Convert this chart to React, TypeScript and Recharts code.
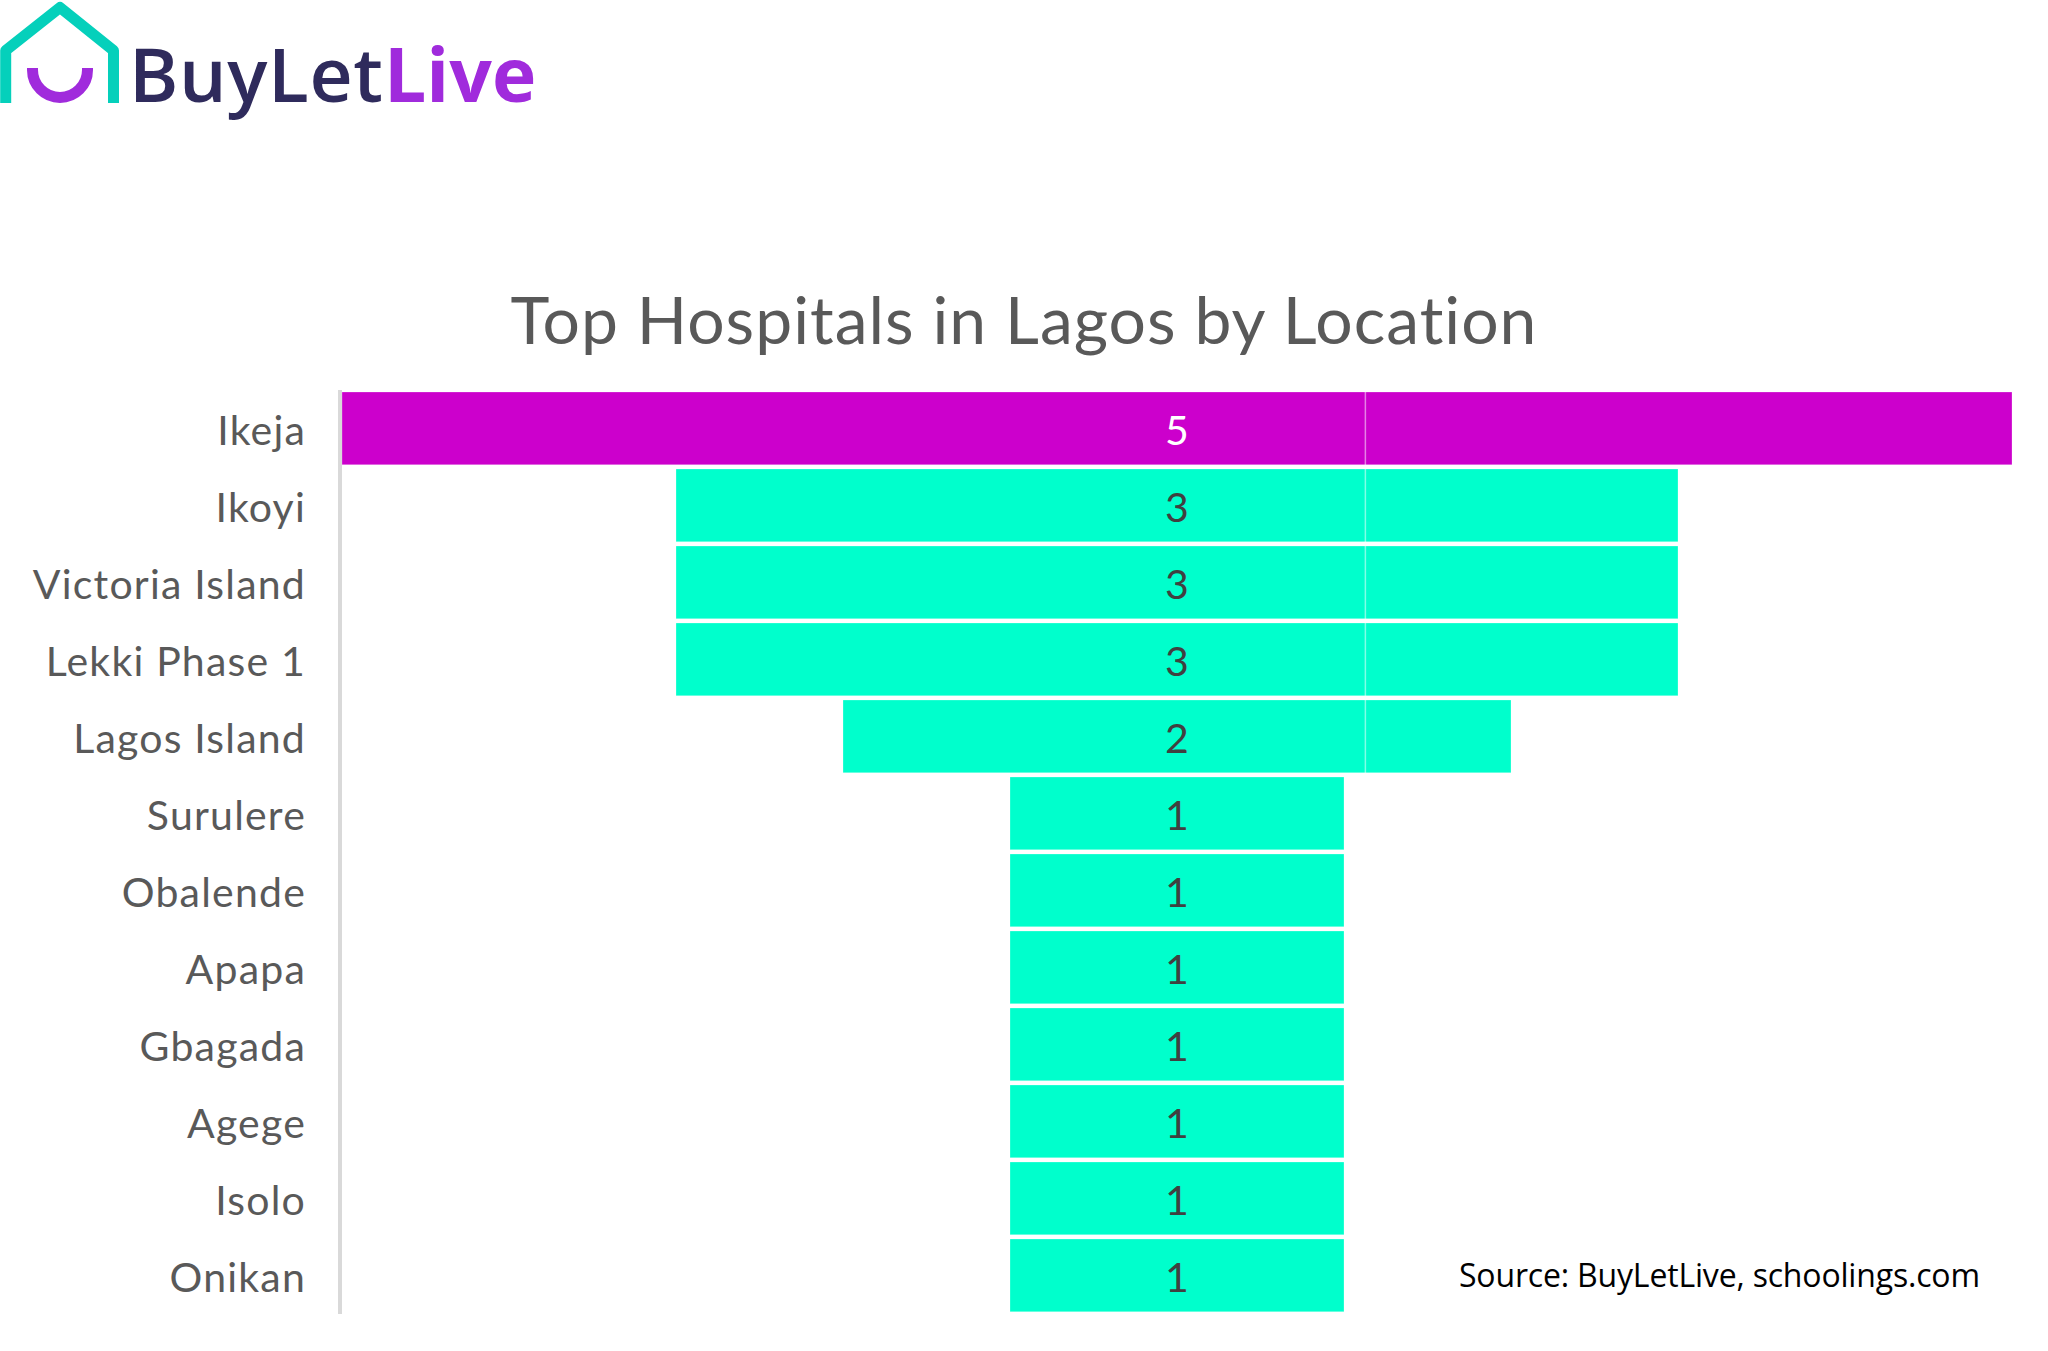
import React from 'react';
import { BarChart, Bar, XAxis, YAxis, Cell, LabelList, ReferenceLine } from 'recharts';

const locations = ['Ikeja', 'Ikoyi', 'Victoria Island', 'Lekki Phase 1', 'Lagos Island', 'Surulere', 'Obalende', 'Apapa', 'Gbagada', 'Agege', 'Isolo', 'Onikan'];
const hospitals = [5, 3, 3, 3, 2, 1, 1, 1, 1, 1, 1, 1];
// invisible spacer that centres each bar, funnel style
const spacers = [0, 1, 1, 1, 1.5, 2, 2, 2, 2, 2, 2, 2];

const data = locations.map((location, i) => ({ location, hospitals: hospitals[i], spacer: spacers[i] }));

const FONT = 'Lato, sans-serif';
const NO_LIGATURES = { fontVariantLigatures: 'none' } as const;

const renderValue = (props: any) => {
  const { x, y, width, height, value } = props;
  return (
    <text
      x={x + width / 2}
      y={y + height / 2}
      dy="0.4em"
      textAnchor="middle"
      fontFamily={FONT}
      fontSize={41}
      fill={value === 5 ? '#ffffff' : '#404040'}
    >
      {value}
    </text>
  );
};

const renderTick = (props: any) => {
  const { x, y, payload } = props;
  return (
    <text
      x={x}
      y={y}
      dy="0.4em"
      textAnchor="end"
      fontFamily={FONT}
      fontSize={41}
      letterSpacing={1.2}
      fill="#595959"
      style={NO_LIGATURES}
    >
      {payload.value}
    </text>
  );
};

const Overlay = () => (
  <svg width={2048} height={1351} style={{ position: 'absolute', left: 0, top: 0 }}>
    <path d="M5.7 103 V50.5 L60 7.5 L113.5 50.5 V103" fill="none" stroke="#05d0bb" strokeWidth={11} strokeLinejoin="round" />
    <path d="M32.5 68 V70 A27.5 27.5 0 0 0 87.5 70 V68" fill="none" stroke="#a02bdc" strokeWidth={11} />
    <text x={129} y={102} fontFamily="'Open Sans', sans-serif" fontWeight={600} fontSize={75} letterSpacing={0.6} fill="#2f2b5c">BuyLet</text>
    <text x={384} y={102} fontFamily="'Open Sans', sans-serif" fontWeight={700} fontSize={75} fill="#a02bdc">Live</text>
    <text x={1024} y={344} textAnchor="middle" fontFamily={FONT} fontSize={66} letterSpacing={1} fill="#595959" style={NO_LIGATURES}>
      Top Hospitals in Lagos by Location
    </text>
    <text x={1459} y={1287} fontFamily="'Open Sans', sans-serif" fontSize={32} letterSpacing={-0.18} fill="#000000">
      Source: BuyLetLive, schoolings.com
    </text>
  </svg>
);

export default function App() {
  return (
    <div style={{ position: 'absolute', left: 0, top: 0, width: 2048, height: 1351, background: '#fff' }}>
      <BarChart
        width={2048}
        height={1351}
        data={data}
        layout="vertical"
        margin={{ top: 390, right: 36, bottom: 37, left: 0 }}
        barSize={72.7}
      >
        <XAxis type="number" domain={[-0.006, 5]} allowDataOverflow hide />
        <YAxis
          type="category"
          dataKey="location"
          width={340}
          interval={0}
          tickLine={false}
          tickMargin={28}
          axisLine={{ stroke: '#d9d9d9', strokeWidth: 4 }}
          tick={renderTick}
        />
        <Bar dataKey="spacer" stackId="funnel" fill="transparent" isAnimationActive={false} />
        <Bar dataKey="hospitals" stackId="funnel" isAnimationActive={false}>
          {hospitals.map((v, i) => (
            <Cell key={locations[i]} fill={v === 5 ? '#cc00cc' : '#00ffcc'} stroke="#ffffff" strokeOpacity={0.25} strokeWidth={1} />
          ))}
          <LabelList dataKey="hospitals" content={renderValue} />
        </Bar>
        <ReferenceLine x={3.064} stroke="#ffffff" strokeOpacity={0.5} strokeWidth={1.5} />
      </BarChart>
      <Overlay />
    </div>
  );
}
